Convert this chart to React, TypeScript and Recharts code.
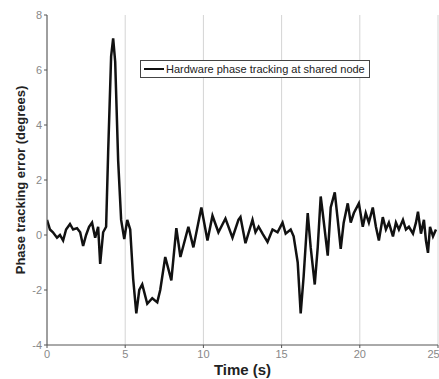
import React from 'react';
import { LineChart, Line, XAxis, YAxis, CartesianGrid, Legend, Label } from 'recharts';

// time samples (s) and tracking error (degrees)
const timeSec = [
  0, 0.19, 0.38, 0.64, 0.83, 1.03, 1.22, 1.47, 1.67, 1.92, 2.12, 2.31, 2.5, 2.69, 2.88, 3.08,
  3.27, 3.4, 3.59, 3.78, 3.91, 4.1, 4.23, 4.36, 4.55, 4.74, 4.94, 5.13, 5.32, 5.51, 5.71, 5.9,
  6.09, 6.41, 6.73, 7.05, 7.24, 7.56, 7.95, 8.27, 8.53, 9.04, 9.36, 9.87, 10.26, 10.58, 10.96,
  11.41, 11.86, 12.24, 12.37, 12.69, 13.14, 13.33, 13.53, 13.78, 14.1, 14.42, 14.74, 15.06,
  15.26, 15.58, 15.77, 16.03, 16.22, 16.41, 16.67, 16.86, 17.12, 17.31, 17.5, 17.63, 17.95,
  18.14, 18.4, 18.59, 18.78, 18.97, 19.23, 19.42, 19.62, 19.94, 20.19, 20.38, 20.58, 20.83,
  21.03, 21.22, 21.47, 21.67, 21.86, 22.12, 22.31, 22.5, 22.76, 22.95, 23.14, 23.4, 23.59,
  23.72, 23.91, 24.1, 24.23, 24.36, 24.49, 24.68, 24.87,
];
const phaseError = [
  0.55, 0.2, 0.1, -0.1, 0.0, -0.2, 0.2, 0.4, 0.2, 0.25, 0.1, -0.4, 0.0, 0.3, 0.45, -0.1,
  0.3, -1.05, 0.1, 0.3, 3.0, 6.5, 7.15, 6.3, 2.7, 0.55, -0.15, 0.55, 0.2, -1.6, -2.85, -2.0,
  -1.8, -2.5, -2.3, -2.45, -2.0, -0.8, -1.65, 0.25, -0.8, 0.3, -0.45, 1.0, -0.2, 0.7, 0.1,
  0.6, -0.1, 0.55, 0.65, -0.3, 0.55, 0.1, 0.3, 0.05, -0.25, 0.2, 0.1, 0.45,
  0.05, 0.2, -0.05, -1.0, -2.85, -1.5, 0.8, -0.45, -1.8, -0.45, 1.4, 0.8, -0.75,
  1.0, 1.55, 0.55, -0.5, 0.45, 1.15, 0.45, 0.8, 1.15, 0.3, 0.8, 0.45, 1.0,
  0.3, -0.2, 0.65, 0.2, 0.45, -0.05, 0.45, 0.2, 0.55, 0.2, 0.3, 0.05, 0.45,
  0.85, 0.05, 0.55, -0.2, -0.65, 0.3, -0.05, 0.2,
];
const xTicks = [0, 5, 10, 15, 20, 25];
const yTicks = [-4, -2, 0, 2, 4, 6, 8];
const seriesName = 'Hardware phase tracking at shared node';

const chartData = timeSec.map((t, i) => ({ t, err: phaseError[i] }));

const FONT = '"Liberation Sans", Arial, sans-serif';

const LegendBox = () => (
  <div
    style={{
      display: 'flex',
      alignItems: 'center',
      border: '1px solid #444',
      background: '#fff',
      padding: '2px 4px 2px 3px',
      fontFamily: FONT,
      fontSize: 11,
      color: '#222',
      whiteSpace: 'nowrap',
    }}
  >
    <span style={{ display: 'inline-block', width: 20, height: 0, borderTop: '2.5px solid #111', marginRight: 2 }} />
    {seriesName}
  </div>
);

export default function App() {
  return (
    <div style={{ position: 'absolute', left: 0, top: 0, width: 439, height: 379, background: '#fff' }}>
      <LineChart width={439} height={379} data={chartData} margin={{ top: 15, right: 1, left: 0, bottom: 4 }}>
        <CartesianGrid horizontal={false} stroke="#d4d4d4" />
        <XAxis
          dataKey="t"
          type="number"
          domain={[0, 25]}
          ticks={xTicks}
          allowDataOverflow
          height={30}
          stroke="#555"
          tickSize={3}
          tick={{ fill: '#888', fontSize: 11, fontFamily: FONT }}
          tickMargin={2}
        >
          <Label value="Time (s)" position="insideBottom" offset={0} style={{ fontFamily: FONT, fontSize: 15, fontWeight: 'bold', fill: '#222' }} />
        </XAxis>
        <YAxis
          type="number"
          domain={[-4, 8]}
          ticks={yTicks}
          width={47}
          stroke="#555"
          tickSize={3}
          tick={{ fill: '#888', fontSize: 11, fontFamily: FONT }}
          tickMargin={2}
        >
          <Label
            value="Phase tracking error (degrees)"
            angle={-90}
            position="insideLeft"
            offset={20}
            style={{ textAnchor: 'middle', fontFamily: FONT, fontSize: 13, fontWeight: 'bold', fill: '#222' }}
          />
        </YAxis>
        <XAxis xAxisId="top" orientation="top" type="number" domain={[0, 25]} ticks={xTicks} tick={false} tickLine={false} stroke="#555" height={0} />
        <YAxis yAxisId="right" orientation="right" type="number" domain={[-4, 8]} ticks={yTicks} tick={false} tickLine={false} stroke="#555" width={0} />
        <Legend
          layout="horizontal"
          verticalAlign="middle"
          align="center"
          content={<LegendBox />}
          wrapperStyle={{ position: 'absolute', left: 140, top: 60, width: 'auto' }}
        />
        <Line
          type="linear"
          dataKey="err"
          stroke="#111"
          strokeWidth={2.5}
          dot={false}
          isAnimationActive={false}
        />
      </LineChart>
    </div>
  );
}
